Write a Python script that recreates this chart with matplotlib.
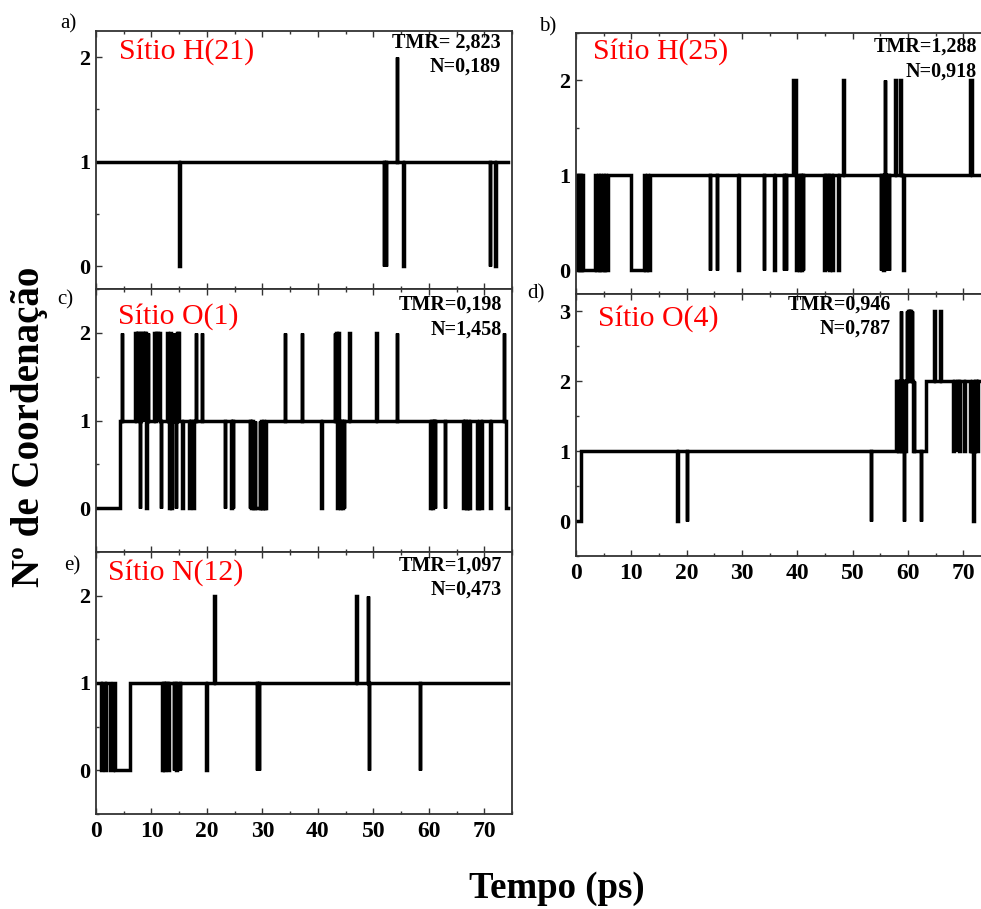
import matplotlib
matplotlib.use("Agg")
import matplotlib.pyplot as plt
from matplotlib.ticker import MultipleLocator

W, H = 981, 909
plt.rcParams["font.family"] = ["Liberation Serif", "DejaVu Serif"]

# coordination number vs time: change points (ps) and the level held from each one
a_t = [0, 15.0, 15.1, 51.9, 52.0, 52.2, 52.35, 54.2, 54.35, 55.35, 55.45,
       70.95, 71.05, 71.9, 72.05]
a_y = [1, 0, 1, 0, 1, 0, 1, 2, 1, 0, 1, 0, 1, 0, 1]

b_t = [0, 0.2, 0.4, 0.55, 0.8, 0.95, 1.1, 1.3, 3.4, 3.6, 4.0, 4.15, 4.4, 4.55,
       4.8, 5.0, 5.3, 5.45, 5.8, 10.0, 12.2, 12.4, 12.8, 12.95, 13.3,
       24.2, 24.3, 25.4, 25.5, 29.3, 29.4, 33.9, 34.0, 35.8, 35.9,
       37.5, 37.6, 37.9, 38.0, 39.3, 39.7, 39.8, 40.0, 40.3, 40.4, 40.7, 40.8,
       41.0, 41.1, 44.9, 45.0, 45.3, 45.4, 45.8, 45.9, 46.3, 46.4, 47.4, 47.5,
       48.3, 48.4, 55.1, 55.2, 55.5, 55.6, 55.8, 55.9, 56.0, 56.1, 56.5, 56.6,
       57.7, 57.8, 58.6, 58.7, 59.1, 59.2, 71.2, 71.6]
b_y = [1, 0, 1, 0, 1, 0, 1, 0, 1, 0, 1, 0, 1, 0,
       1, 0, 1, 0, 1, 0, 1, 0, 1, 0, 1,
       0, 1, 0, 1, 0, 1, 0, 1, 0, 1,
       0, 1, 0, 1, 2, 1, 0, 1, 0, 1, 0, 1,
       0, 1, 0, 1, 0, 1, 0, 1, 0, 1, 0, 1,
       2, 1, 0, 1, 0, 1, 2, 1, 0, 1, 0, 1,
       2, 1, 2, 1, 0, 1, 2, 1]

c_t = [0, 4.3, 4.6, 4.7, 7.0, 7.2, 7.35, 7.5, 7.6, 7.9, 8.0,
       8.2, 8.4, 8.5, 8.8, 8.9, 9.1, 9.2, 9.3, 9.4,
       10.5, 10.7, 10.8, 11.1, 11.2, 11.6, 11.7, 11.8,
       12.8, 12.9, 13.2, 13.3, 13.4, 13.5, 13.6, 13.7, 14.0, 14.15, 14.4, 14.5,
       14.6, 14.75, 14.8, 14.9, 15.5, 15.6, 16.8, 16.9, 17.1, 17.2, 17.5, 17.6,
       18.0, 18.1, 19.1, 19.2, 23.2, 23.3, 24.4, 24.5, 24.65, 24.75,
       27.7, 27.85, 28.0, 28.2, 28.3, 28.6, 28.7, 29.5, 29.6, 29.8, 29.9,
       30.1, 30.2, 30.4, 30.5, 30.7, 34.0, 34.1, 37.1, 37.2, 40.6, 40.7,
       43.0, 43.15, 43.25, 43.4, 43.5, 43.6, 43.7, 43.8, 44.0, 44.1, 44.3,
       44.45, 44.7, 44.8, 45.7, 45.8, 50.5, 50.6, 54.2, 54.3,
       60.3, 60.4, 60.55, 60.7, 60.85, 61.0, 61.1, 61.2, 62.9, 63.0,
       66.2, 66.3, 66.45, 66.55, 66.7, 66.8, 66.95, 67.1, 67.3, 67.45,
       68.7, 68.8, 68.95, 69.1, 69.4, 69.55, 71.1, 71.2, 73.5, 73.6, 74.0]
c_y = [0, 1, 2, 1, 2, 1, 2, 1, 2, 0, 1,
       2, 1, 2, 1, 2, 0, 1, 2, 1,
       2, 1, 2, 1, 2, 1, 0, 1,
       2, 1, 0, 1, 2, 1, 0, 1, 2, 1, 0, 1,
       2, 1, 2, 1, 0, 1, 0, 1, 0, 1, 0, 1,
       2, 1, 2, 1, 0, 1, 0, 1, 0, 1,
       0, 1, 0, 1, 0, 1, 0, 1, 0, 1, 0,
       1, 0, 1, 0, 1, 2, 1, 2, 1, 0, 1,
       2, 1, 2, 1, 0, 1, 2, 1, 0, 1, 0,
       1, 0, 1, 2, 1, 2, 1, 2, 1,
       0, 1, 0, 1, 0, 1, 0, 1, 0, 1,
       0, 1, 0, 1, 0, 1, 0, 1, 0, 1,
       0, 1, 0, 1, 0, 1, 0, 1, 2, 1, 0]

d_t = [0, 0.85, 18.3, 18.4, 20.0, 20.1, 53.3, 53.4,
       57.8, 57.95, 58.05, 58.2, 58.3, 58.45, 58.55, 58.7, 58.8, 58.95, 59.05,
       59.2, 59.3, 59.45, 59.6, 59.8, 59.9, 60.0, 60.1, 60.2, 60.35, 60.45,
       60.6, 60.7, 60.8, 60.9, 61.0, 61.15, 62.3, 62.4, 63.3,
       64.7, 64.8, 65.8, 65.9, 68.2, 68.3, 68.8, 68.9, 69.3, 69.4, 70.2, 70.3,
       71.2, 71.3, 71.45, 71.6, 71.8, 71.9, 72.05, 72.2, 72.35, 72.5, 72.7]
d_y = [0, 1, 0, 1, 0, 1, 0, 1,
       2, 1, 2, 1, 2, 1, 2, 3, 2, 1, 2,
       0, 2, 1, 2, 3, 2, 3, 2, 3, 2, 3,
       2, 3, 2, 1, 2, 1, 0, 1, 2,
       3, 2, 3, 2, 1, 2, 1, 2, 1, 2, 1, 2,
       1, 2, 1, 2, 0, 1, 2, 1, 2, 1, 2]

e_t = [0, 0.9, 1.1, 1.7, 1.8, 2.5, 3.1, 3.5, 6.1,
       11.9, 12.0, 12.25, 12.35, 12.6, 12.7, 13.0, 13.1,
       14.0, 14.1, 14.5, 14.6, 15.1, 15.2, 19.9, 20.0, 21.2, 21.45,
       29.0, 29.1, 29.3, 29.45, 46.9, 47.0, 49.0, 49.1, 49.2, 49.3, 58.4, 58.5]
e_y = [1, 0, 1, 0, 1, 0, 1, 0, 1,
       0, 1, 0, 1, 0, 1, 0, 1,
       0, 1, 0, 1, 0, 1, 0, 1, 2, 1,
       0, 1, 0, 1, 2, 1, 2, 1, 0, 1, 0, 1]

t_end = 74.2

sites = ["Sítio H(21)", "Sítio H(25)", "Sítio O(1)", "Sítio O(4)", "Sítio N(12)"]
tmr = ["TMR= 2,823", "TMR=1,288", "TMR=0,198", "TMR=0,946", "TMR=1,097"]
nval = ["N=0,189", "N=0,918", "N=1,458", "N=0,787", "N=0,473"]
letters = ["a)", "b)", "c)", "d)", "e)"]

fig = plt.figure(figsize=(W / 100, H / 100), dpi=100)
fig.patch.set_facecolor("white")


def px_box(x0, y0, x1, y1):
    return [x0 / W, 1 - y1 / H, (x1 - x0) / W, (y1 - y0) / H]


def ftext(x, y, s, **kw):
    fig.text(x / W, 1 - y / H, s, **kw)


# axes boxes in pixels (left, top, right, bottom)
boxes = [(96, 31, 512, 289), (576, 33, 991, 294), (96, 289, 512, 552),
         (576, 294, 991, 556), (96, 552, 512, 814)]
ylims = [(-0.22, 2.25), (-0.25, 2.5), (-0.5, 2.5), (-0.5, 3.25), (-0.5, 2.5)]
yticks = [[0, 1, 2], [0, 1, 2], [0, 1, 2], [0, 1, 2, 3], [0, 1, 2]]
series = [(a_t, a_y), (b_t, b_y), (c_t, c_y), (d_t, d_y), (e_t, e_y)]
show_x = [False, False, False, True, True]

for i, (t, y) in enumerate(series):
    ax = fig.add_axes(px_box(*boxes[i]))
    ax.plot(list(t) + [t_end], list(y) + [y[-1]], drawstyle="steps-post",
            color="black", lw=2.5, solid_joinstyle="miter")
    ax.set_xlim(0, 75)
    ax.set_ylim(*ylims[i])
    ax.set_yticks(yticks[i])
    ax.yaxis.set_minor_locator(MultipleLocator(0.5))
    ax.xaxis.set_major_locator(MultipleLocator(10))
    ax.xaxis.set_minor_locator(MultipleLocator(5))
    ax.tick_params(which="both", direction="in", top=True, right=False,
                   color="#333333", width=1.0)
    ax.tick_params(which="major", length=4)
    ax.tick_params(which="minor", length=2.5)
    ax.tick_params(axis="y", labelsize=16, pad=4)
    ax.tick_params(axis="x", labelsize=17, pad=5, labelbottom=show_x[i])
    for lab in ax.get_xticklabels() + ax.get_yticklabels():
        lab.set_fontweight("bold")
    for sp in ax.spines.values():
        sp.set_color("#333333")
        sp.set_linewidth(1.3)

# site names, residence times and panel letters
site_pos = [(119, 52), (593, 52), (118, 317), (598, 319), (108, 573)]
stat_pos = [(501, 43, 67), (977, 47, 72), (502, 305, 330), (891, 305, 329),
            (502, 566, 590)]
letter_pos = [(68, 24), (548, 27), (65, 300), (536, 294), (72, 566)]

for i in range(5):
    x, y = site_pos[i]
    ftext(x, y, sites[i], color="#ff0000", fontsize=21.5, ha="left", va="center")
    x, y1, y2 = stat_pos[i]
    ftext(x, y1, tmr[i], fontsize=14.5, fontweight="bold", ha="right", va="center")
    ftext(x, y2, nval[i], fontsize=14.5, fontweight="bold", ha="right", va="center")
    x, y = letter_pos[i]
    ftext(x, y, letters[i], fontsize=15, ha="center", va="center")

ftext(30, 427, "Nº de Coordenação", fontsize=28, fontweight="bold",
      rotation=90, ha="center", va="center")
ftext(557, 889, "Tempo (ps)", fontsize=26.5, fontweight="bold",
      ha="center", va="center")

fig.savefig("out.png", dpi=100)
